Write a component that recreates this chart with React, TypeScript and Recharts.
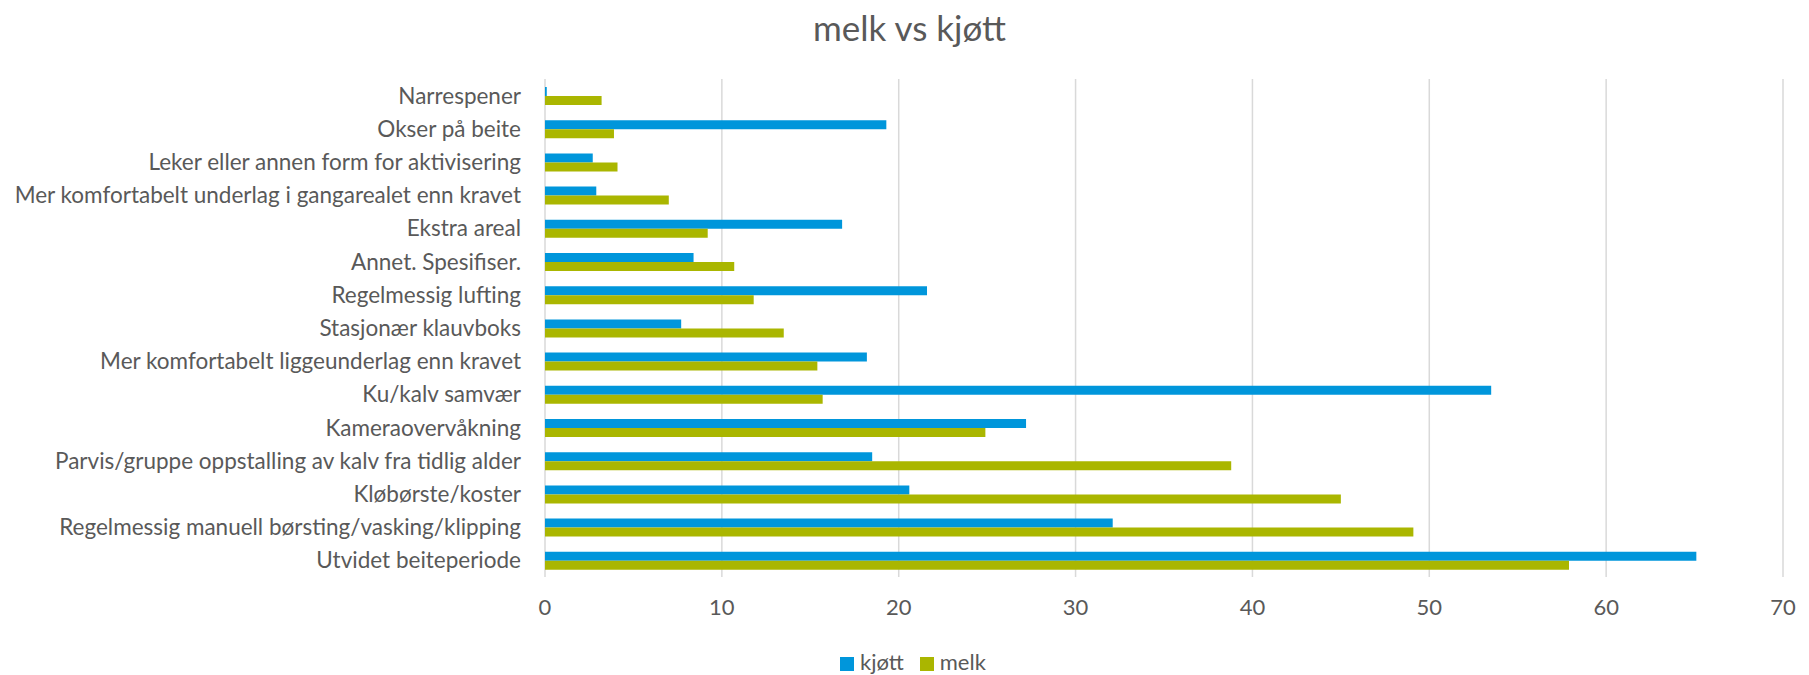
import {
  Bar,
  BarChart,
  CartesianGrid,
  Legend,
  XAxis,
  YAxis,
} from "recharts";

const categories = [
  "Narrespener",
  "Okser på beite",
  "Leker eller annen form for aktivisering",
  "Mer komfortabelt underlag i gangarealet enn kravet",
  "Ekstra areal",
  "Annet. Spesifiser.",
  "Regelmessig lufting",
  "Stasjonær klauvboks",
  "Mer komfortabelt liggeunderlag enn kravet",
  "Ku/kalv samvær",
  "Kameraovervåkning",
  "Parvis/gruppe oppstalling av kalv fra tidlig alder",
  "Kløbørste/koster",
  "Regelmessig manuell børsting/vasking/klipping",
  "Utvidet beiteperiode",
];

const kjott = [0.1, 19.3, 2.7, 2.9, 16.8, 8.4, 21.6, 7.7, 18.2, 53.5, 27.2, 18.5, 20.6, 32.1, 65.1];
const melk = [3.2, 3.9, 4.1, 7.0, 9.2, 10.7, 11.8, 13.5, 15.4, 15.7, 24.9, 38.8, 45.0, 49.1, 57.9];

const xTicks = [0, 10, 20, 30, 40, 50, 60, 70];

const data = categories.map((name, i) => ({ name, kjott: kjott[i], melk: melk[i] }));

const FONT = "Lato, 'Open Sans', sans-serif";
const TEXT = "#595959";
const BLUE = "#0096DB";
const GREEN = "#AAB600";

export default function App() {
  return (
    <div style={{ position: "absolute", left: 0, top: 0, width: 1809, height: 675, background: "#fff" }}>
      <div
        style={{
          position: "absolute",
          top: 6,
          left: 5,
          width: 1809,
          textAlign: "center",
          fontFamily: FONT,
          fontSize: 35,
          lineHeight: "42px",
          color: TEXT,
        }}
      >
        melk vs kjøtt
      </div>
      <BarChart
        width={1809}
        height={675}
        data={data}
        layout="vertical"
        barGap={0}
        margin={{ top: 79, right: 26, left: 0, bottom: 58 }}
        style={{ fontFamily: FONT }}
      >
        <CartesianGrid horizontal={false} stroke="#d9d9d9" strokeWidth={1.5} />
        <XAxis
          type="number"
          domain={[0, 70]}
          ticks={xTicks}
          axisLine={false}
          tickLine={false}
          tickSize={0}
          tickMargin={22}
          height={40}
          tick={{ fontSize: 22, fill: TEXT }}
        />
        <YAxis
          type="category"
          dataKey="name"
          width={545}
          axisLine={false}
          tickLine={false}
          tickSize={0}
          tickMargin={24}
          interval={0}
          tick={{ fontSize: 22.5, fill: TEXT }}
        />
        <Legend
          verticalAlign="middle"
          align="center"
          layout="horizontal"
          iconType="square"
          iconSize={14}
          wrapperStyle={{ top: 648, left: 840, width: "auto", fontSize: 22, color: TEXT }}
          formatter={(value) => <span style={{ color: TEXT, marginLeft: 2, marginRight: 6 }}>{value}</span>}
        />
        <Bar dataKey="kjott" name="kjøtt" fill={BLUE} barSize={9} isAnimationActive={false} />
        <Bar dataKey="melk" name="melk" fill={GREEN} barSize={9} isAnimationActive={false} />
      </BarChart>
    </div>
  );
}
